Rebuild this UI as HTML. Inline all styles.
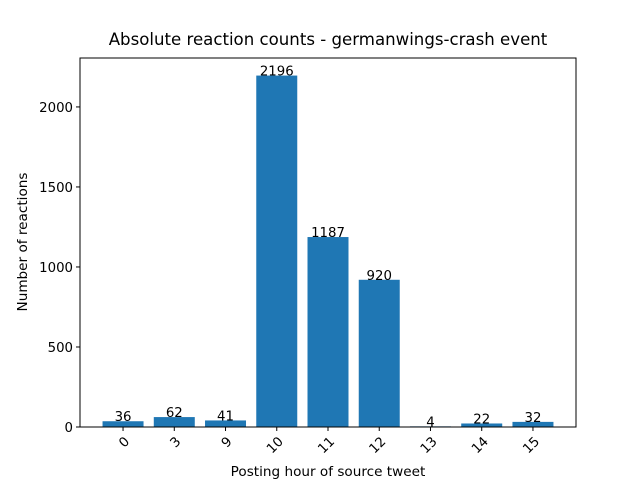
<!DOCTYPE html>
<html><head><meta charset="utf-8"><style>body{margin:0;background:#fff}svg{display:block;font-family:"DejaVu Sans","Liberation Sans",sans-serif}</style></head>
<body>
<svg id="chart" width="640" height="480">
<text x="328" y="45" text-anchor="middle" font-size="16.6">Absolute reaction counts - germanwings-crash event</text>
<g id="bars"></g>
<g id="yaxis"></g>
<g id="xaxis"></g>
<rect x="80" y="58" width="496" height="369" fill="none" stroke="#000" stroke-width="1"/>
<text x="328" y="476" text-anchor="middle" font-size="13.6">Posting hour of source tweet</text>
<text transform="translate(27,242) rotate(-90)" text-anchor="middle" font-size="13.6">Number of reactions</text>
</svg>
<script>
const categories = ["0","3","9","10","11","12","13","14","15"];
const values = [36,62,41,2196,1187,920,4,22,32];
const yTicks = [0,500,1000,1500,2000];
const L=80,R=576,T=58,B=427;
const ymax=Math.max(...values)*1.05;
const xmin=-0.84,xmax=categories.length-1+0.84;
const xs=i=>L+(i-xmin)/(xmax-xmin)*(R-L);
const ys=v=>B-v/ymax*(B-T);
const ns="http://www.w3.org/2000/svg";
function mk(tag,attrs,parent,txt){const e=document.createElementNS(ns,tag);for(const k in attrs)e.setAttribute(k,attrs[k]);if(txt!==undefined)e.textContent=txt;parent.appendChild(e);return e;}
const bars=document.getElementById('bars'),ya=document.getElementById('yaxis'),xa=document.getElementById('xaxis');
const bw=0.8*(R-L)/(xmax-xmin);
values.forEach((v,i)=>{
 const r=mk('rect',{x:xs(i)-bw/2,y:ys(v),width:bw,height:B-ys(v),fill:'#1f77b4'},bars);
 
 
 const t=mk('text',{x:xs(i),y:ys(v),'text-anchor':'middle','font-size':'13.3'},bars,String(v));
 
 
 const tk=mk('line',{x1:xs(i),x2:xs(i),y1:B,y2:B+4,stroke:'#000'},xa);
 
 
 const tl=mk('text',{transform:`translate(${xs(i)+1},${B+9}) rotate(-45)`,'text-anchor':'end','font-size':'13.3','dominant-baseline':'hanging'},xa,categories[i]);
 
 
});
yTicks.forEach(v=>{
 const tk=mk('line',{x1:L-4,x2:L,y1:ys(v),y2:ys(v),stroke:'#000'},ya);
 
 
 const tl=mk('text',{x:L-7,y:ys(v)+5,'text-anchor':'end','font-size':'13.3'},ya,String(v));
 
 
});
</script>
</body></html>
